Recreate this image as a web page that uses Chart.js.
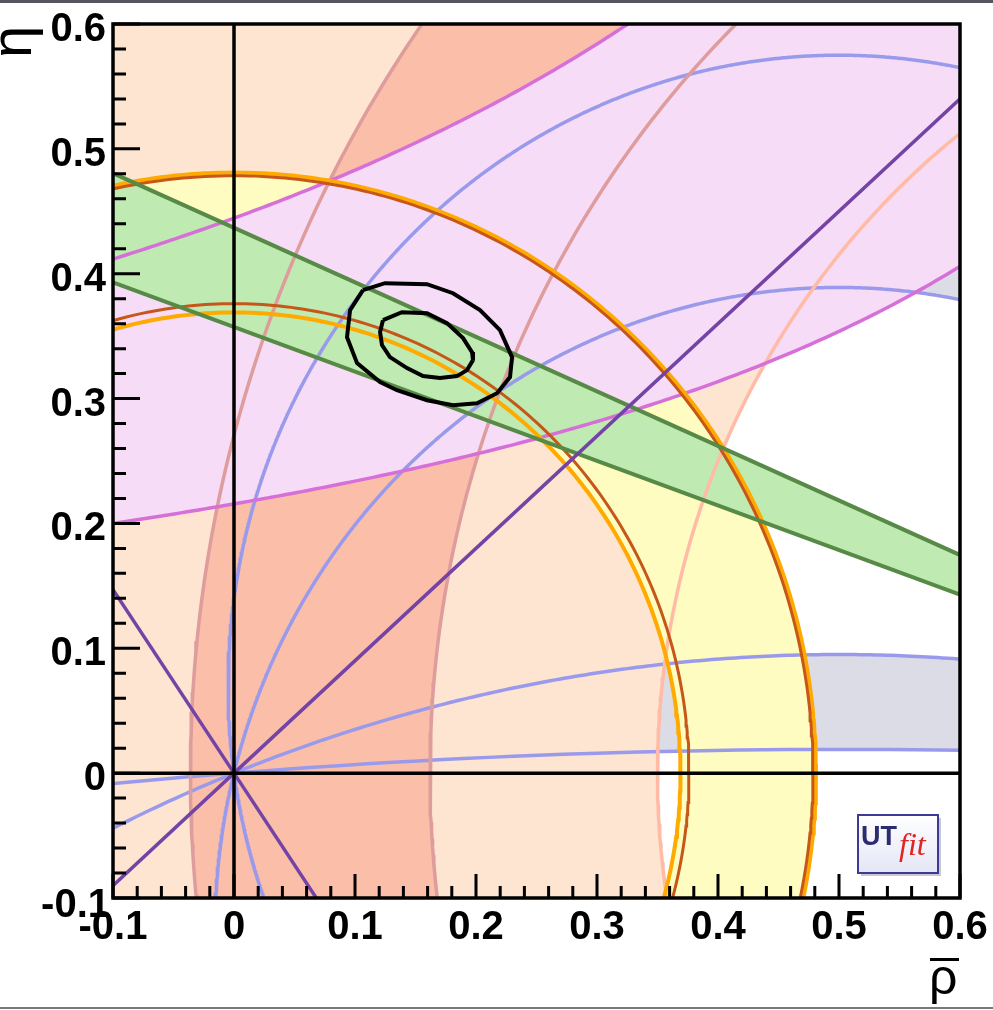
<!DOCTYPE html>
<html>
<head>
<meta charset="utf-8">
<script src="https://cdn.jsdelivr.net/npm/chart.js@4.4.1/dist/chart.umd.min.js"></script>
<style>
    html, body { margin: 0; padding: 0; background: #fff; overflow: hidden; }
    canvas { display: block; }
</style>
</head>
<body>
<canvas id="utChart" width="993" height="1010"></canvas>
<script>
(function () {
    "use strict";

    // axes
    const rhoRange = [-0.1, 0.6];
    const etaRange = [-0.1, 0.6];
    const tickValues = [-0.1, 0, 0.1, 0.2, 0.3, 0.4, 0.5, 0.6];
    const tickLabels = ['-0.1', '0', '0.1', '0.2', '0.3', '0.4', '0.5', '0.6'];
    const minorStep = 0.02;

    // |Vub/Vcb| rings around (0,0): [inner, outer] radius
    const vubOrange = [0.369, 0.481];
    const vubBrown = [0.376, 0.4785];
    // Δmd band and Δms bound: radii of circles around (1,0)
    const dmdRadii = [0.838, 1.036];
    const dmsRadius = [0.65];
    // α: height at ρ = 0.5 of the circles through (0,0) and (1,0)
    const alphaHigh = [0.575, 0.389];
    const alphaLow = [0.095, 0.019];
    // γ: slopes of the lines through the origin
    const gammaSlopes = [0.9, -1.47];
    // sin2β: η = s·(1 - ρ)
    const betaSlopes = [0.4368, 0.3573];
    // εK: η = K / (ρ0 - ρ), given as [ρ0, K]
    const epsKLow = [1.28, 0.276];
    const epsKHigh = [1.256, 0.5583];
    // fit contours, [ρ, η]
    const contour95 = [
        [0.1066, 0.3868], [0.1248, 0.3924], [0.1595, 0.3916], [0.1810, 0.3844],
        [0.2033, 0.3708], [0.2198, 0.3548], [0.2298, 0.3332], [0.2281, 0.3172],
        [0.2174, 0.3043], [0.2008, 0.2963], [0.1810, 0.2947], [0.1595, 0.2987],
        [0.1347, 0.3067], [0.1207, 0.3132], [0.1017, 0.3284], [0.0934, 0.3492],
        [0.0959, 0.3708]
    ];
    const contour68 = [
        [0.1231, 0.3628], [0.1388, 0.3692], [0.1595, 0.3684], [0.1760, 0.3604],
        [0.1893, 0.3484], [0.1967, 0.3372], [0.1975, 0.3308], [0.1926, 0.3228],
        [0.1843, 0.3180], [0.1702, 0.3164], [0.1562, 0.3180], [0.1430, 0.3244],
        [0.1289, 0.3332], [0.1223, 0.3428], [0.1207, 0.3532]
    ];

    const colors = {
        peach: '#fde5d1', salmon: '#fbbfa9', yellow: '#fefcc0', pink: '#f6dcf6',
        green: '#bfeab1', gray: '#dcdce6',
        blue: '#9a9aec', rose: '#de9c9c', lightSalmon: '#ffbba6', magenta: '#d670d8',
        greenLine: '#578a46', orange: '#ffaa00', brown: '#c65718', purple: '#7443a6'
    };

    // geometry helpers
    function arc(cx, cy, r, a0, a1, n) {
        const pts = [];
        for (let i = 0; i <= n; i++) {
            const a = a0 + (a1 - a0) * i / n;
            pts.push({x: cx + r * Math.cos(a), y: cy + r * Math.sin(a)});
        }
        return pts;
    }
    function alphaCircle(top) {
        const k = (top * top - 0.25) / (2 * top);
        return {k: k, r: top - k, a0: Math.atan2(-k, 0.5)};
    }
    function alphaArc(top, reverse) {
        const c = alphaCircle(top);
        return reverse ? arc(0.5, c.k, c.r, Math.PI - c.a0, c.a0, 600)
            : arc(0.5, c.k, c.r, c.a0, Math.PI - c.a0, 600);
    }
    function curve(fn, from, to, n) {
        const pts = [];
        for (let i = 0; i <= n; i++) {
            const x = from + (to - from) * i / n;
            pts.push({x: x, y: fn(x)});
        }
        return pts;
    }
    const hyper = p => (x => p[1] / (p[0] - x));
    const toPts = list => list.concat([list[0]]).map(p => ({x: p[0], y: p[1]}));

    const layers = [];
    function fillShape(data, color) {
        layers.push({data: data, fill: 'shape', backgroundColor: color, borderWidth: 0, borderColor: 'transparent'});
    }
    function line(data, color, width) {
        layers.push({data: data, fill: false, borderColor: color, borderWidth: width});
    }

    // filled regions, back to front
    fillShape(alphaArc(alphaHigh[0], false).concat(alphaArc(alphaHigh[1], true)), colors.gray);
    fillShape(alphaArc(alphaLow[0], false).concat(alphaArc(alphaLow[1], true)), colors.gray);
    fillShape(arc(1, 0, dmsRadius[0], Math.PI / 2, 1.5 * Math.PI, 400)
        .concat([{x: 1, y: -2}, {x: -2, y: -2}, {x: -2, y: 2}, {x: 1, y: 2}]), colors.peach);
    fillShape(arc(1, 0, dmdRadii[1], Math.PI / 2, 1.5 * Math.PI, 400)
        .concat(arc(1, 0, dmdRadii[0], 1.5 * Math.PI, Math.PI / 2, 400)), colors.salmon);
    fillShape(arc(0, 0, vubOrange[1], 0, 2 * Math.PI, 500)
        .concat(arc(0, 0, vubOrange[0], 2 * Math.PI, 0, 500)), colors.yellow);
    fillShape(curve(hyper(epsKLow), -0.3, 0.9, 300)
        .concat(curve(hyper(epsKHigh), 0.9, -0.3, 300)), colors.pink);
    fillShape(curve(x => betaSlopes[0] * (1 - x), -0.3, 0.9, 2)
        .concat(curve(x => betaSlopes[1] * (1 - x), 0.9, -0.3, 2)), colors.green);

    // constraint lines
    alphaHigh.concat(alphaLow).forEach(function (top) {
        const c = alphaCircle(top);
        line(arc(0.5, c.k, c.r, 0, 2 * Math.PI, 2000), colors.blue, 3.5);
    });
    line(arc(1, 0, dmsRadius[0], Math.PI / 2, 1.5 * Math.PI, 400), colors.lightSalmon, 3.5);
    dmdRadii.forEach(r => line(arc(1, 0, r, Math.PI / 2, 1.5 * Math.PI, 400), colors.rose, 3.5));
    line(curve(hyper(epsKLow), -0.3, 0.9, 300), colors.magenta, 3.5);
    line(curve(hyper(epsKHigh), -0.3, 0.9, 300), colors.magenta, 3.5);
    vubOrange.forEach(r => line(arc(0, 0, r, 0, 2 * Math.PI, 500), colors.orange, 4));
    vubBrown.forEach(r => line(arc(0, 0, r, 0, 2 * Math.PI, 500), colors.brown, 3));
    betaSlopes.forEach(s => line(curve(x => s * (1 - x), -0.3, 0.9, 2), colors.greenLine, 4));
    gammaSlopes.forEach(s => line(curve(x => s * x, -1, 1, 2), colors.purple, 3.5));
    line(toPts(contour95), '#000', 4);
    line(toPts(contour68), '#000', 4);
    line([{x: 0, y: etaRange[0]}, {x: 0, y: etaRange[1]}], '#000', 3.5);
    line([{x: rhoRange[0], y: 0}, {x: rhoRange[1], y: 0}], '#000', 3.5);

    const datasets = layers.map((d, i) => Object.assign({
        pointRadius: 0, tension: 0, order: layers.length - i
    }, d));

    const rootFrame = {
        id: 'rootFrame',
        afterDraw(chart) {
            const {ctx, chartArea: a, scales: {x, y}} = chart;
            ctx.save();
            ctx.fillStyle = '#55555f';
            ctx.fillRect(0, 0, chart.width, 3);
            ctx.fillStyle = '#77777d';
            ctx.fillRect(0, chart.height - 3, chart.width, 2);

            ctx.strokeStyle = '#000';
            ctx.lineWidth = 3.5;
            ctx.strokeRect(a.left, a.top, a.right - a.left, a.bottom - a.top);

            const nMinor = Math.round((rhoRange[1] - rhoRange[0]) / minorStep);
            ctx.lineWidth = 3;
            ctx.beginPath();
            for (let i = 0; i <= nMinor; i++) {
                const v = rhoRange[0] + i * minorStep;
                const major = i % 5 === 0;
                const px = x.getPixelForValue(v);
                const py = y.getPixelForValue(v);
                ctx.moveTo(px, a.bottom);
                ctx.lineTo(px, a.bottom - (major ? 24 : 12));
                ctx.moveTo(a.left, py);
                ctx.lineTo(a.left + (major ? 27 : 13), py);
            }
            ctx.stroke();

            ctx.fillStyle = '#000';
            ctx.font = 'bold 40px "Liberation Sans", Arial, sans-serif';
            ctx.textBaseline = 'alphabetic';
            tickValues.forEach(function (v, i) {
                ctx.textAlign = 'center';
                ctx.fillText(tickLabels[i], x.getPixelForValue(v), 939);
                ctx.textAlign = 'right';
                const low = i === 0;
                ctx.fillText(tickLabels[i], low ? 110 : 106, y.getPixelForValue(v) + (low ? 19 : 17));
            });

            // axis titles
            ctx.font = '50px "Liberation Sans", Arial, sans-serif';
            ctx.textAlign = 'left';
            ctx.fillText('ρ', 929, 994);
            ctx.fillRect(930, 958, 29, 3);
            ctx.save();
            ctx.translate(31, 58);
            ctx.rotate(-Math.PI / 2);
            ctx.font = '58px "Liberation Sans", Arial, sans-serif';
            ctx.fillText('η', 0, 0);
            ctx.restore();

            // UTfit logo
            ctx.fillStyle = '#c8c8d0';
            ctx.fillRect(861, 818, 80, 58);
            const g = ctx.createLinearGradient(0, 815, 0, 873);
            g.addColorStop(0, '#ffffff');
            g.addColorStop(1, '#e4e6f6');
            ctx.fillStyle = g;
            ctx.fillRect(858, 815, 80, 58);
            ctx.strokeStyle = '#3b3b95';
            ctx.lineWidth = 2;
            ctx.strokeRect(858, 815, 80, 58);
            ctx.fillStyle = '#2b2b70';
            ctx.font = 'bold 27px "Liberation Sans", Arial, sans-serif';
            ctx.fillText('UT', 861, 845);
            ctx.fillStyle = '#e02424';
            ctx.font = 'italic 32px "Liberation Serif", "Times New Roman", serif';
            ctx.fillText('fit', 899, 855);
            ctx.restore();
        }
    };

    new Chart(document.getElementById('utChart').getContext('2d'), {
        type: 'line',
        data: {datasets: datasets},
        plugins: [rootFrame],
        options: {
            responsive: false,
            animation: false,
            events: [],
            layout: {padding: {left: 113, top: 24, right: 33, bottom: 112}},
            plugins: {legend: {display: false}, tooltip: {enabled: false}},
            scales: {
                x: {type: 'linear', min: rhoRange[0], max: rhoRange[1], display: false},
                y: {type: 'linear', min: etaRange[0], max: etaRange[1], display: false}
            }
        }
    });
})();
</script>
</body>
</html>
